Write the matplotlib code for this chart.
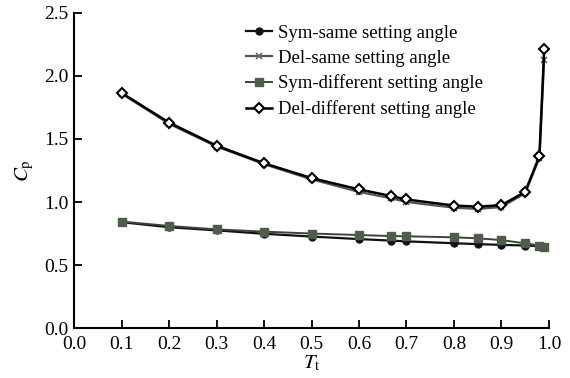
import matplotlib
matplotlib.use("Agg")
import matplotlib.pyplot as plt

plt.rcParams['font.family'] = ['Liberation Serif', 'DejaVu Serif']
plt.rcParams['mathtext.fontset'] = 'stix'

tt = [0.1, 0.2, 0.3, 0.4, 0.5, 0.6, 0.667, 0.7, 0.8, 0.85, 0.9, 0.95, 0.98, 0.99]
sym_same = [0.84, 0.80, 0.775, 0.748, 0.726, 0.706, 0.694, 0.688, 0.673, 0.666, 0.660, 0.655, 0.650, 0.645]
del_same = [1.86, 1.62, 1.44, 1.30, 1.18, 1.08, 1.03, 1.00, 0.955, 0.945, 0.96, 1.07, 1.35, 2.13]
sym_diff = [0.845, 0.81, 0.783, 0.765, 0.75, 0.738, 0.730, 0.728, 0.720, 0.712, 0.698, 0.672, 0.655, 0.645]
del_diff = [1.865, 1.63, 1.447, 1.307, 1.19, 1.10, 1.048, 1.02, 0.972, 0.963, 0.975, 1.08, 1.365, 2.21]

labels = ["Sym-same setting angle", "Del-same setting angle",
          "Sym-different setting angle", "Del-different setting angle"]

fig = plt.figure(figsize=(5.7, 3.78), dpi=100)
ax = fig.add_axes([0.13, 0.132, 0.833, 0.834])

ax.plot(tt, sym_same, color='#111111', lw=1.6, marker='o', ms=5, mfc='#111122', mec='#111122', label=labels[0])
ax.plot(tt, del_same, color='#555555', lw=1.6, marker='x', ms=5, mew=1.2, mec='#666666', label=labels[1])
ax.plot(tt, sym_diff, color='#3a4538', lw=1.4, marker='s', ms=6, mfc='#4e5e4b', mec='#4e5e4b', label=labels[2])
ax.plot(tt, del_diff, color='black', lw=1.8, marker='D', ms=5, mfc='white', mec='black', mew=1.5, label=labels[3])

ax.set_xlim(0, 1.0)
ax.set_ylim(0, 2.5)
ax.set_xticks([i / 10 for i in range(11)])
ax.set_yticks([0, 0.5, 1.0, 1.5, 2.0, 2.5])
ax.set_xticklabels([f"{i/10:.1f}" for i in range(11)])
ax.set_yticklabels([f"{v:.1f}" for v in [0, 0.5, 1.0, 1.5, 2.0, 2.5]])
ax.tick_params(direction='in', length=6, width=1.3, labelsize=14, colors='black')
ax.tick_params(axis='x', pad=6)
ax.tick_params(axis='y', pad=4)
for s in ['top', 'right']:
    ax.spines[s].set_visible(False)
for s in ['left', 'bottom']:
    ax.spines[s].set_linewidth(1.5)

ax.set_xlabel(r'$T_{\rm t}$', fontsize=15, labelpad=0)
ax.set_ylabel(r'$C_{\rm p}$', fontsize=15, labelpad=6)

fig.legend(loc='upper left', bbox_to_anchor=(0.432, 0.935), frameon=False, fontsize=13.5,
           handlelength=1.4, handletextpad=0.3, labelspacing=0.42, borderaxespad=0.0,
           borderpad=0.0)

fig.savefig("out.png", dpi=100)
